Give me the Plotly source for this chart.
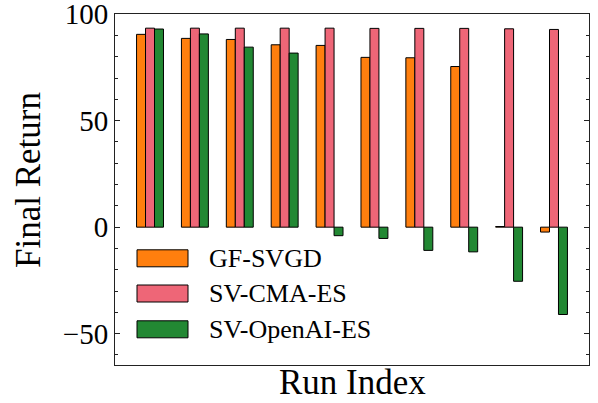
import plotly.graph_objects as go

runs = list(range(10))
series_names = ["GF-SVGD", "SV-CMA-ES", "SV-OpenAI-ES"]
gf_svgd = [90.5, 88.6, 88.1, 85.6, 85.3, 79.7, 79.5, 75.4, 0.3, -2.3]
sv_cma_es = [93.4, 93.4, 93.4, 93.4, 93.4, 93.3, 93.3, 93.3, 93.1, 92.8]
sv_openai_es = [93.0, 90.7, 84.5, 81.7, -4.0, -5.3, -10.9, -11.6, -25.4, -41.0]
colors = ["#ff7f0e", "#ee6677", "#228833"]

FONT = "Liberation Serif"

fig = go.Figure()
for name, vals, col in zip(series_names, [gf_svgd, sv_cma_es, sv_openai_es], colors):
    fig.add_trace(go.Bar(x=runs, y=vals, name=name, marker=dict(color=col, line=dict(color="black", width=1)),
                         showlegend=False))

PW, PH = 474, 351
# manual legend (matplotlib-like patches)
leg_px = [258.3, 293.5, 329.3]
for name, col, py in zip(series_names, colors, leg_px):
    yy = (365 - py) / PH
    fig.add_shape(type="rect", xref="paper", yref="paper",
                  x0=(137 - 115) / PW, x1=(188 - 115) / PW,
                  y0=yy - 8.5 / PH, y1=yy + 8.5 / PH,
                  fillcolor=col, line=dict(color="black", width=1))
    fig.add_annotation(xref="paper", yref="paper", x=(207 - 115) / PW, y=yy, text=name,
                       showarrow=False, xanchor="left", yanchor="middle",
                       font=dict(family=FONT, size=26, color="black"))

fig.add_annotation(xref="paper", yref="paper", x=0.5, y=(365 - 382) / PH, text="Run Index",
                   showarrow=False, xanchor="center", yanchor="middle",
                   font=dict(family=FONT, size=35, color="black"))
fig.add_annotation(xref="paper", yref="paper", x=-(115 - 29) / PW, y=(365 - 180) / PH, text="Final Return",
                   showarrow=False, xanchor="center", yanchor="middle", textangle=-90,
                   font=dict(family=FONT, size=35, color="black"))

fig.update_layout(
    width=598, height=403,
    margin=dict(l=115, r=9, t=14, b=38, autoexpand=False),
    paper_bgcolor="white", plot_bgcolor="white",
    barmode="group", bargap=0.4, bargroupgap=0,
    font=dict(family=FONT, color="black"),
)
fig.update_xaxes(range=[-0.78, 9.78], showticklabels=False, ticks="", showgrid=False, zeroline=False,
                 showline=True, linecolor="#222", linewidth=1, mirror=True, automargin=False)
fig.update_yaxes(range=[-64.7, 100.05], tickvals=[-50, 0, 50, 100], ticks="inside", ticklen=5, tickcolor="#222",
                 showgrid=False, zeroline=False, showline=True, linecolor="#222", linewidth=1, mirror="allticks",
                 automargin=False, ticklabeloverflow="allow",
                 tickfont=dict(family=FONT, size=29, color="black"),
                 minor=dict(dtick=10, tick0=0, ticks="inside", ticklen=3, tickcolor="#222", showgrid=False))

fig.write_html("out.html", config={"displayModeBar": False},
               post_script="document.body.style.margin='0';document.body.style.overflow='hidden';")
